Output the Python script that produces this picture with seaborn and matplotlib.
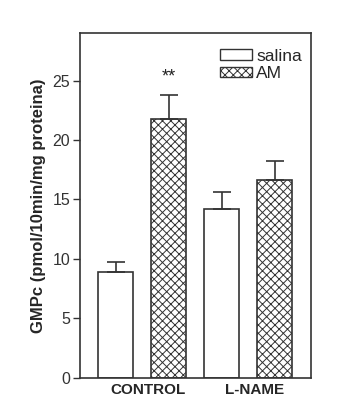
import numpy as np
import pandas as pd
import matplotlib
matplotlib.use("Agg")
import matplotlib.pyplot as plt
import seaborn as sns
from matplotlib.patches import Patch

# --- data ---
groups = ["CONTROL", "L-NAME"]
treatments = ["salina", "AM"]
means_salina = [8.9, 14.2]
means_am = [21.8, 16.6]
sem_salina = [0.8, 1.4]
sem_am = [2.0, 1.6]
y_ticks = [0, 5, 10, 15, 20, 25]

df = pd.DataFrame({
    "group": groups * 2,
    "treatment": [treatments[0]] * 2 + [treatments[1]] * 2,
    "value": means_salina + means_am,
    "sem": sem_salina + sem_am,
})

sns.set_style("ticks")
plt.rcParams["font.family"] = ["Liberation Sans", "DejaVu Sans"]
plt.rcParams["hatch.linewidth"] = 0.7
plt.rcParams["hatch.color"] = "#3a3a3a"

fig = plt.figure(figsize=(3.53, 4.19), dpi=100)
ax = fig.add_axes([0.2266, 0.0986, 0.6534, 0.8225])

edge = "#333333"
sns.barplot(data=df, x="group", y="value", hue="treatment",
            palette=["white", "white"], edgecolor=edge, linewidth=1.2,
            width=1.0, gap=0.33, errorbar=None, legend=False, ax=ax)

# hatch the AM bars, add upward-only error bars
for cont, t in zip(ax.containers, treatments):
    sub = df[df["treatment"] == t]
    xs, tops = [], []
    for bar in cont:
        if t == "AM":
            bar.set_hatch("xxxx")
        xs.append(bar.get_x() + bar.get_width() / 2)
        tops.append(bar.get_height())
    errs = sub["sem"].to_numpy()
    ax.errorbar(xs, tops, yerr=[np.zeros_like(errs), errs], fmt="none",
                ecolor=edge, elinewidth=1.2, capsize=6.5, capthick=1.2, zorder=1)

# significance mark above CONTROL / AM
am_bar = ax.containers[1][0]
ax.text(am_bar.get_x() + am_bar.get_width() / 2, means_am[0] + sem_am[0] + 1.5,
        "**", ha="center", va="center", fontsize=13, color="#222222")

ax.set_xlim(-0.585, 1.59)
ax.set_ylim(0, 29)
ax.set_yticks(y_ticks)
ax.set_xticks([0.06, 1.06], groups)
ax.tick_params(axis="y", labelsize=11.5, labelcolor="#333333", length=5,
               width=1, color=edge, pad=2)
ax.tick_params(axis="x", length=0, labelsize=11, pad=4)
for lab in ax.get_xticklabels():
    lab.set_fontweight("bold")
ax.set_xlabel("")
ax.set_ylabel("GMPc (pmol/10min/mg proteina)", fontsize=12, fontweight="bold",
              labelpad=5)
for sp in ax.spines.values():
    sp.set_color(edge)
    sp.set_linewidth(1.2)

handles = [Patch(facecolor="white", edgecolor=edge, linewidth=1.0, label="salina"),
           Patch(facecolor="white", edgecolor=edge, linewidth=1.0, hatch="xxxx", label="AM")]
ax.legend(handles=handles, loc="upper right", frameon=False, fontsize=12.5,
          handlelength=1.85, handleheight=0.55, handletextpad=0.25,
          labelspacing=0.15, borderaxespad=0.5, bbox_to_anchor=(1.03, 1.0))

fig.savefig("out.png", dpi=100)
